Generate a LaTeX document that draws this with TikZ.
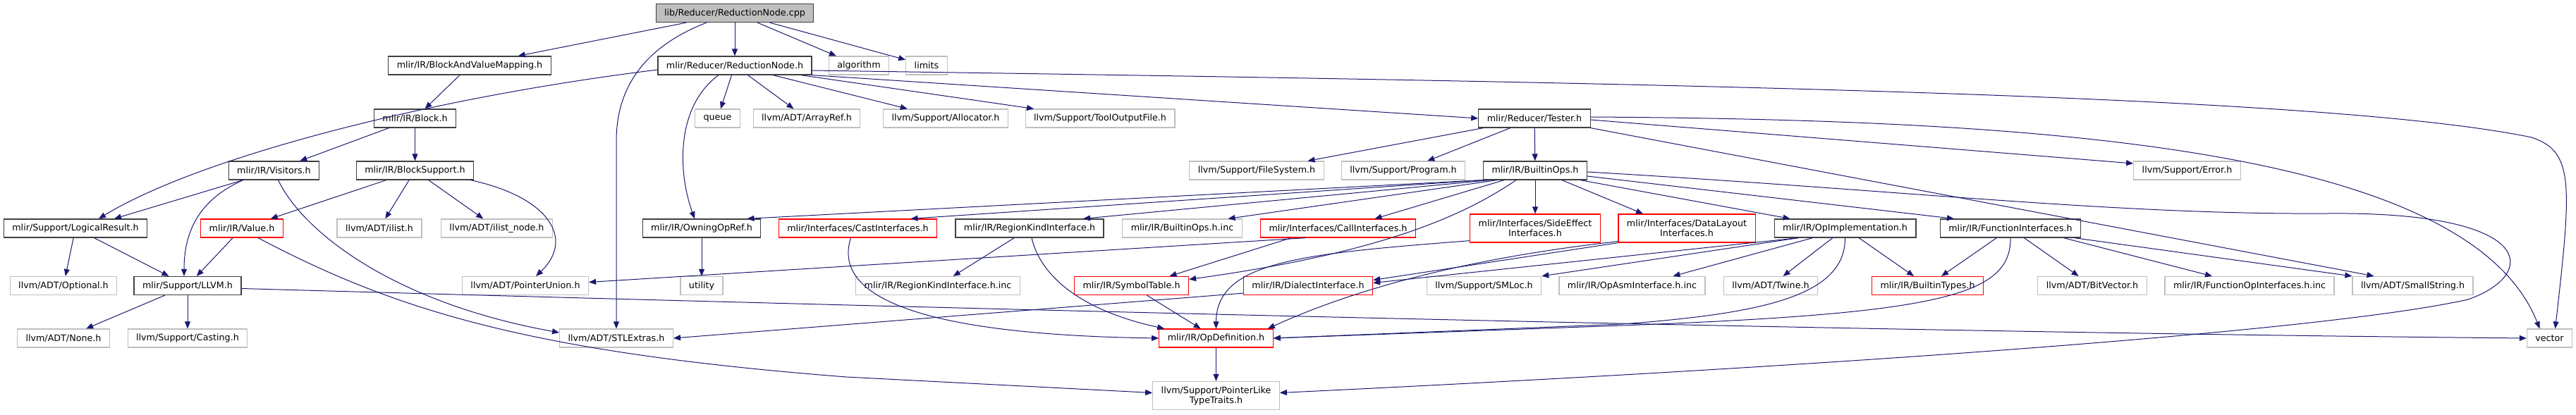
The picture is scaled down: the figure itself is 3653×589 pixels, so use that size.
\documentclass[tikz,border=0pt]{standalone}
\usepackage{fontspec}
\setmainfont{DejaVu Sans}
\usepackage{tikz}
\usetikzlibrary{positioning, arrows.meta, calc}
\definecolor{EdgeBlue}{RGB}{25,25,112}
\definecolor{BoxDark}{RGB}{64,64,64}
\definecolor{BoxLight}{RGB}{191,191,191}
\definecolor{BoxRed}{RGB}{255,0,0}

\begin{document}
\begin{tikzpicture}[x=0.5pt, y=-0.5pt,
  every node/.style={font=\fontsize{6.35}{7}\selectfont},
  file/.style={rectangle, draw, line width=0.6pt, minimum height=13pt, inner xsep=6pt, inner ysep=0pt, align=center},
  box/.style={file, draw=BoxDark},
  leaf/.style={file, draw=BoxLight},
  trunc/.style={file, draw=BoxRed},
  rootbox/.style={file, draw=BoxDark, fill=BoxLight},
  tall/.style={minimum height=20pt},
  arrow/.style={-{Triangle[length=5pt, width=4pt]}, line width=0.5pt, EdgeBlue}
]
\useasboundingbox (0,0) rectangle (3653,589);

% Row 1-4
\node[rootbox] (root) at (1042,18.5) {lib/Reducer/ReductionNode.cpp};
\node[box] (bavm) at (666,93) {mlir/IR/BlockAndValueMapping.h};
\node[box] (rnh) at (1042,93) {mlir/Reducer/ReductionNode.h};
\node[leaf] (algo) at (1218,93) {algorithm};
\node[leaf] (limits) at (1314,93) {limits};
\node[box] (block) at (588.5,168) {mlir/IR/Block.h};
\node[leaf] (queue) at (1017.5,168) {queue};
\node[leaf] (arrayref) at (1144,168) {llvm/ADT/ArrayRef.h};
\node[leaf] (allocator) at (1341,168) {llvm/Support/Allocator.h};
\node[leaf] (toolout) at (1560,168) {llvm/Support/ToolOutputFile.h};
\node[box] (tester) at (2176,168) {mlir/Reducer/Tester.h};
\node[box] (visitors) at (388.5,242) {mlir/IR/Visitors.h};
\node[box] (blocksup) at (588.5,242) {mlir/IR/BlockSupport.h};
\node[leaf] (filesys) at (1782,242) {llvm/Support/FileSystem.h};
\node[leaf] (program) at (1990,242) {llvm/Support/Program.h};
\node[box] (builtinops) at (2177,242) {mlir/IR/BuiltinOps.h};
\node[leaf] (error) at (3101.5,242) {llvm/Support/Error.h};

% Row 5
\node[box] (logres) at (107,324) {mlir/Support/LogicalResult.h};
\node[trunc] (value) at (343,324) {mlir/IR/Value.h};
\node[leaf] (ilist) at (538,324) {llvm/ADT/ilist.h};
\node[leaf] (ilistnode) at (704.5,324) {llvm/ADT/ilist\_node.h};
\node[box] (owning) at (995,324) {mlir/IR/OwningOpRef.h};
\node[trunc] (cast) at (1216.5,324) {mlir/Interfaces/CastInterfaces.h};
\node[box] (regionkind) at (1460,324) {mlir/IR/RegionKindInterface.h};
\node[leaf] (builtinopsinc) at (1676.5,324) {mlir/IR/BuiltinOps.h.inc};
\node[trunc] (call) at (1897.5,324) {mlir/Interfaces/CallInterfaces.h};
\node[trunc, tall] (sideeffect) at (2177,324) {mlir/Interfaces/SideEffect\\Interfaces.h};
\node[trunc, tall] (datalayout) at (2392,324) {mlir/Interfaces/DataLayout\\Interfaces.h};
\node[box] (opimpl) at (2616.5,324) {mlir/IR/OpImplementation.h};
\node[box] (funcif) at (2851,324) {mlir/IR/FunctionInterfaces.h};

% Row 6
\node[leaf] (optional) at (90,405.5) {llvm/ADT/Optional.h};
\node[box] (llvmh) at (266,405.5) {mlir/Support/LLVM.h};
\node[leaf] (ptrunion) at (745,405.5) {llvm/ADT/PointerUnion.h};
\node[leaf] (utility) at (995,405.5) {utility};
\node[leaf] (regionkindinc) at (1330,405.5) {mlir/IR/RegionKindInterface.h.inc};
\node[trunc] (symtab) at (1604.5,405.5) {mlir/IR/SymbolTable.h};
\node[trunc] (dialectif) at (1855,405.5) {mlir/IR/DialectInterface.h};
\node[leaf] (smloc) at (2104.5,405.5) {llvm/Support/SMLoc.h};
\node[leaf] (opasminc) at (2314.5,405.5) {mlir/IR/OpAsmInterface.h.inc};
\node[leaf] (twine) at (2511,405.5) {llvm/ADT/Twine.h};
\node[trunc] (builtintypes) at (2733.5,405.5) {mlir/IR/BuiltinTypes.h};
\node[leaf] (bitvector) at (2967,405.5) {llvm/ADT/BitVector.h};
\node[leaf] (funcopinc) at (3190,405.5) {mlir/IR/FunctionOpInterfaces.h.inc};
\node[leaf] (smallstring) at (3421.5,405.5) {llvm/ADT/SmallString.h};

% Row 7-8
\node[leaf] (none) at (90,480) {llvm/ADT/None.h};
\node[leaf] (casting) at (266,480) {llvm/Support/Casting.h};
\node[leaf] (stlextras) at (874,480) {llvm/ADT/STLExtras.h};
\node[trunc] (opdef) at (1724.5,480) {mlir/IR/OpDefinition.h};
\node[leaf] (vector) at (3615.5,480) {vector};
\node[leaf, tall] (ptrlike) at (1724.5,561.5) {llvm/Support/PointerLike\\TypeTraits.h};

% Arrows from the top files
\draw[arrow] (root) -- (bavm);
\draw[arrow] (root) -- (rnh);
\draw[arrow] (root) -- (algo);
\draw[arrow] (root) -- (limits);
\draw[arrow] ($(root.south)+(-40,0)$) .. controls (930,60) and (874,110) .. (874,200) -- (stlextras);
\draw[arrow] (bavm) -- (block);
\draw[arrow] ($(rnh.west)+(0,6)$) .. controls (600,140) and (280,225) .. ($(logres.north)+(33,0)$);
\draw[arrow] ($(rnh.south)+(-23,0)$) .. controls (960,150) and (960,240) .. ($(owning.north)+(-10,0)$);
\draw[arrow] (rnh) -- (queue);
\draw[arrow] (rnh) -- (arrayref);
\draw[arrow] (rnh) -- (allocator);
\draw[arrow] (rnh) -- (toolout);
\draw[arrow] (rnh.south east) -- (tester.west);
\draw[arrow] ($(rnh.east)+(0,7)$) .. controls (2400,118) and (3300,135) .. (3590,195) .. controls (3650,215) and (3647,260) .. ($(vector.north)+(8,0)$);

% Block and support headers
\draw[arrow] (block) -- (visitors);
\draw[arrow] (block) -- (blocksup);
\draw[arrow] ($(visitors.south west)+(21,0)$) -- ($(logres.north)+(55,0)$);
\draw[arrow] ($(visitors.south west)+(21,0)$) .. controls (290,280) and (261,320) .. ($(llvmh.north)+(-5,0)$);
\draw[arrow] ($(visitors.south)+(6,0)$) .. controls (430,330) and (560,430) .. ($(stlextras.west)+(0,-8)$);
\draw[arrow] (blocksup) -- (value);
\draw[arrow] (blocksup) -- (ilist);
\draw[arrow] (blocksup) -- (ilistnode);
\draw[arrow] ($(blocksup.south east)+(-5,0)$) .. controls (780,280) and (815,340) .. ($(ptrunion.north)+(15,0)$);
\draw[arrow] (logres) -- (optional);
\draw[arrow] (logres) -- (llvmh);
\draw[arrow] (value) -- (llvmh);
\draw[arrow] ($(value.south)+(23,0)$) .. controls (560,440) and (750,500) .. (1200,535) -- ($(ptrlike.west)+(0,-4)$);
\draw[arrow] (llvmh) -- (none);
\draw[arrow] (llvmh) -- (casting);
\draw[arrow] ($(llvmh.east)+(0,4)$) .. controls (1000,428) and (2500,470) .. (vector.west);

% Tester
\draw[arrow] (tester) -- (filesys);
\draw[arrow] (tester) -- (program);
\draw[arrow] (tester) -- (builtinops);
\draw[arrow] ($(tester.east)+(0,2)$) -- ($(error.west)+(0,-10)$);
\draw[arrow] ($(tester.east)+(0,-2)$) .. controls (2900,170) and (3500,210) .. ($(vector.north)+(-14,0)$);
\draw[arrow] (tester.south east) -- ($(smallstring.north)+(-55,0)$);

% BuiltinOps
\draw[arrow] (builtinops.south west) -- ($(owning.north east)+(-20,0)$);
\draw[arrow] (builtinops.south west) -- ($(cast.north)+(75,0)$);
\draw[arrow] ($(builtinops.south west)+(10,0)$) -- ($(regionkind.north)+(76,0)$);
\draw[arrow] ($(builtinops.south west)+(20,0)$) -- ($(builtinopsinc.north)+(65,0)$);
\draw[arrow] ($(builtinops.south west)+(30,0)$) -- ($(call.north)+(52,0)$);
\draw[arrow] ($(builtinops.south)+(-27,0)$) .. controls (2070,310) and (1950,360) .. ($(symtab.east)+(0,-9)$);
\draw[arrow] (builtinops) -- (sideeffect);
\draw[arrow] ($(builtinops.south)+(38,0)$) -- ($(datalayout.north)+(-62,0)$);
\draw[arrow] ($(builtinops.south east)+(-10,0)$) -- ($(opimpl.north)+(-78,0)$);
\draw[arrow] ($(builtinops.east)+(0,8)$) -- ($(funcif.north)+(-80,0)$);
\draw[arrow] ($(builtinops.east)+(0,2)$) .. controls (2700,270) and (3000,305) .. (3300,303) .. controls (3600,300) and (3600,390) .. (3500,425) .. controls (3300,470) and (2600,520) .. ($(ptrlike.east)+(0,-4)$);

% Interfaces
\draw[arrow] ($(sideeffect.south west)+(0,-3)$) .. controls (1850,360) and (1725,370) .. (opdef.north);
\draw[arrow] (datalayout.south west) -- ($(dialectif.east)+(0,-8)$);
\draw[arrow] ($(datalayout.south west)+(0,-2)$) .. controls (2050,370) and (1900,420) .. ($(opdef.north east)+(-8,0)$);
\draw[arrow] ($(opimpl.south west)+(35,0)$) -- ($(dialectif.east)+(0,-4)$);
\draw[arrow] ($(opimpl.south west)+(35,0)$) -- (smloc.north east);
\draw[arrow] ($(opimpl.south west)+(55,0)$) -- ($(opasminc.north)+(58,0)$);
\draw[arrow] (opimpl) -- (twine);
\draw[arrow] (opimpl) -- (builtintypes);
\draw[arrow] (opimpl.south) .. controls (2617,420) and (2500,445) .. (2300,460) -- (opdef.east);
\draw[arrow] (funcif) -- (builtintypes);
\draw[arrow] (funcif.south) .. controls (2852,420) and (2750,445) .. (2300,462) -- (opdef.east);
\draw[arrow] (funcif) -- (bitvector);
\draw[arrow] ($(funcif.south east)+(-25,0)$) -- ($(funcopinc.north)+(-53,0)$);
\draw[arrow] ($(funcif.south east)+(-10,0)$) -- (smallstring.north west);
\draw[arrow] ($(cast.south)+(-10,0)$) .. controls (1180,420) and (1300,475) .. (opdef.west);
\draw[arrow] ($(call.south west)+(44,0)$) -- ($(symtab.north)+(54,0)$);
\draw[arrow] ($(call.south west)+(65,0)$) -- ($(ptrunion.east)+(0,-5)$);
\draw[arrow] (regionkind) -- (regionkindinc);
\draw[arrow] ($(regionkind.south)+(3,0)$) .. controls (1475,390) and (1530,440) .. ($(opdef.north west)+(8,0)$);
\draw[arrow] (symtab) -- (opdef);
\draw[arrow] ($(dialectif.south west)+(0,-3)$) -- (stlextras.east);
\draw[arrow] (opdef) -- (ptrlike);
\draw[arrow] (owning) -- (utility);

\end{tikzpicture}
\end{document}
